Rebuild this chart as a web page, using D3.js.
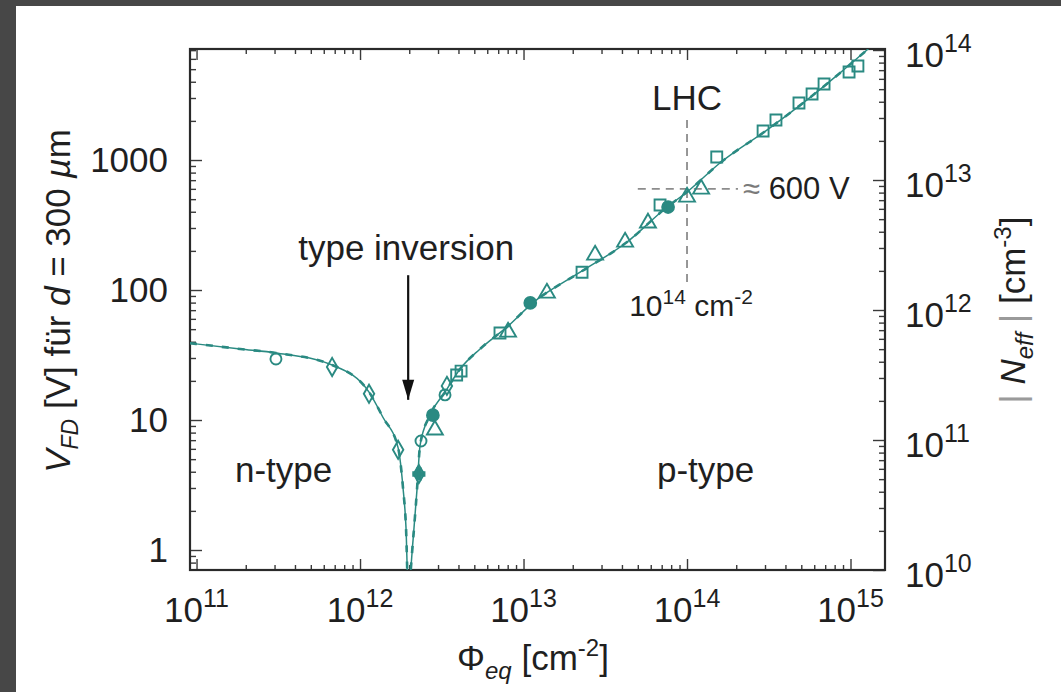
<!DOCTYPE html>
<html>
<head>
<meta charset="utf-8">
<script src="https://cdn.jsdelivr.net/npm/d3@7"></script>
<style>
  html, body { margin: 0; padding: 0; background: #474747; overflow: hidden; }
  svg { display: block; }
  text { font-family: "Liberation Sans", Arial, Helvetica, sans-serif; fill: #1f1f1f; }
</style>
</head>
<body>
<svg id="chart" width="1061" height="692"></svg>
<script>
// Fit curve: full depletion voltage vs. equivalent fluence
const fitFluence = [9.12e10, 1.85e11, 3.06e11, 6.75e11, 1.135e12, 1.38e12, 1.71e12, 1.83e12, 1.91e12, 1.97e12,
                    2.11e12, 2.23e12, 2.33e12, 2.68e12, 3.31e12, 4.09e12, 5.42e12, 7.93e12, 1.14e13, 2.22e13,
                    4.30e13, 7.55e13, 1.0e14, 1.59e14, 3.08e14, 5.42e14, 8.63e14, 1.26e15, 1.51e15];
const fitVoltage = [39.0, 35.2, 32.8, 26.5, 16.4, 10.5, 6.1, 3.05, 1.5, 0.5,
                    1.19, 2.9, 6.4, 10.9, 16.4, 24.7, 35.2, 52, 79.6, 137,
                    234, 435, 567, 948, 1700, 2900, 4680, 7020, 8500];

// Measured samples, grouped by marker type
const circleFluence = [3.06e11, 2.36e12, 3.31e12];
const circleVoltage = [29.5, 6.9, 15.6];
const diamondFluence = [6.75e11, 1.135e12, 1.71e12, 3.4e12];
const diamondVoltage = [25.6, 15.9, 5.9, 18.3];
const crossDiamondFluence = [2.29e12];
const crossDiamondVoltage = [3.84];
const filledFluence = [2.79e12, 1.10e13, 7.66e13];
const filledVoltage = [10.9, 79.6, 435];
const squareFluence = [3.9e12, 4.15e12, 7.18e12, 2.28e13, 6.84e13, 1.52e14, 2.92e14, 3.50e14, 4.84e14, 5.82e14, 6.89e14, 9.8e14, 1.11e15];
const squareVoltage = [22.2, 23.8, 46.7, 137, 451, 1055, 1671, 2031, 2744, 3220, 3843, 4750, 5290];
const triangleFluence = [2.87e12, 8.04e12, 1.39e13, 2.74e13, 4.18e13, 5.77e13, 1.0e14, 1.22e14];
const triangleVoltage = [8.4, 47.5, 94.8, 186, 234, 328, 519, 598];

// Axis ticks
const xTickExponents = [11, 12, 13, 14, 15];
const yTickValues = [1, 10, 100, 1000];
const yTickLabels = ["1", "10", "100", "1000"];
const rightTickExponents = [10, 11, 12, 13, 14];

// Annotations
const lhcFluence = 1e14;
const lhcVoltage = 600;
const inversionFluence = 1.97e12;

const svg = d3.select("#chart");
svg.append("rect").attr("x", 16).attr("y", 6).attr("width", 1045).attr("height", 686).attr("fill", "#fff");

const plot = { left: 190, right: 885, top: 49, bottom: 570 };
const teal = "#2a8a82";

const x = d3.scaleLog().domain([Math.pow(10, 10.96), Math.pow(10, 15.211)]).range([plot.left, plot.right]);
const y = d3.scaleLog().domain([Math.pow(10, -0.1538), Math.pow(10, 3.854)]).range([plot.bottom, plot.top]);
const yN = d3.scaleLog().domain([1e10, 1e10 * y.domain()[1] / y.domain()[0]]).range([plot.bottom, plot.top]);

function minorTicks(scale) {
  const [a, b] = scale.domain();
  const out = [];
  for (let e = Math.floor(Math.log10(a)); e <= Math.ceil(Math.log10(b)); e++) {
    for (let k = 2; k <= 9; k++) {
      const v = k * Math.pow(10, e);
      if (v >= a && v <= b) out.push(v);
    }
  }
  return out;
}
const decades = exps => exps.map(e => Math.pow(10, e));

const axisG = svg.append("g").attr("class", "axes");
function addAxis(gen, transform, values, size) {
  const g = axisG.append("g").attr("transform", transform)
    .call(gen.tickValues(values).tickSize(size).tickFormat(""));
  g.select(".domain").remove();
  g.selectAll("line").attr("stroke", "#3a3a3a").attr("stroke-width", 1.4);
}
// bottom / top
addAxis(d3.axisBottom(x), `translate(0,${plot.bottom})`, decades(xTickExponents), -11);
addAxis(d3.axisBottom(x), `translate(0,${plot.bottom})`, minorTicks(x), -5);
addAxis(d3.axisTop(x), `translate(0,${plot.top})`, decades(xTickExponents), -11);
addAxis(d3.axisTop(x), `translate(0,${plot.top})`, minorTicks(x), -5);
// left (voltage) / right (effective doping)
addAxis(d3.axisLeft(y), `translate(${plot.left},0)`, yTickValues, -12);
addAxis(d3.axisLeft(y), `translate(${plot.left},0)`, minorTicks(y), -6);
addAxis(d3.axisRight(yN), `translate(${plot.right},0)`, decades(rightTickExponents), -12);
addAxis(d3.axisRight(yN), `translate(${plot.right},0)`, minorTicks(yN), -6);

// frame
svg.append("rect")
  .attr("x", plot.left).attr("y", plot.top)
  .attr("width", plot.right - plot.left).attr("height", plot.bottom - plot.top)
  .attr("fill", "none").attr("stroke", "#2a2a2a").attr("stroke-width", 2.2);

// tick labels
const labelFont = 35;
const xl = svg.append("g");
xTickExponents.forEach(e => {
  const t = xl.append("text").attr("x", x(Math.pow(10, e))).attr("y", 622)
    .attr("text-anchor", "middle").attr("font-size", labelFont);
  t.append("tspan").text("10");
  t.append("tspan").attr("dy", -15).attr("font-size", 25).text(e);
});
yTickValues.forEach((v, i) => {
  xl.append("text").attr("x", 168).attr("y", y(v) + 12)
    .attr("text-anchor", "end").attr("font-size", labelFont).text(yTickLabels[i]);
});
rightTickExponents.forEach(e => {
  const t = xl.append("text").attr("x", 905).attr("y", yN(Math.pow(10, e)) + 17)
    .attr("font-size", labelFont);
  t.append("tspan").text("10");
  t.append("tspan").attr("dy", -15).attr("font-size", 25).text(e);
});

// axis titles
const xt = svg.append("text").attr("x", 533).attr("y", 670).attr("text-anchor", "middle").attr("font-size", labelFont);
xt.append("tspan").text("Φ");
xt.append("tspan").attr("font-style", "italic").attr("font-size", 24).attr("dy", 9).text("eq");
xt.append("tspan").attr("dy", -9).text(" [cm");
xt.append("tspan").attr("font-size", 24).attr("dy", -14).text("-2");
xt.append("tspan").attr("dy", 14).text("]");

const yt = svg.append("text").attr("transform", "translate(70,301) rotate(-90)")
  .attr("text-anchor", "middle").attr("font-size", labelFont);
yt.append("tspan").attr("font-style", "italic").text("V");
yt.append("tspan").attr("font-style", "italic").attr("font-size", 23).attr("dy", 8).text("FD");
yt.append("tspan").attr("dy", -8).text(" [V] für ");
yt.append("tspan").attr("font-style", "italic").text("d");
yt.append("tspan").text(" = 300 ");
yt.append("tspan").attr("font-style", "italic").text("µ");
yt.append("tspan").text("m");

const rt = svg.append("text").attr("transform", "translate(1025,310) rotate(-90)")
  .attr("text-anchor", "middle").attr("font-size", labelFont);
rt.append("tspan").attr("fill", "#9a9a9a").text("| ");
rt.append("tspan").attr("font-style", "italic").text("N");
rt.append("tspan").attr("font-style", "italic").attr("font-size", 24).attr("dy", 8).text("eff");
rt.append("tspan").attr("dy", -8).attr("fill", "#9a9a9a").text(" | ");
rt.append("tspan").text("[cm");
rt.append("tspan").attr("font-size", 24).attr("dy", -14).text("-3");
rt.append("tspan").attr("dy", 14).text("]");

// clip to plot area
svg.append("defs").append("clipPath").attr("id", "plotClip")
  .append("rect").attr("x", plot.left).attr("y", plot.top)
  .attr("width", plot.right - plot.left).attr("height", plot.bottom - plot.top);

// LHC crosshair
const cross = svg.append("g").attr("stroke", "#8c8c8c").attr("stroke-width", 1.8).attr("stroke-dasharray", "8 6");
cross.append("line").attr("x1", x(5.0e13)).attr("x2", x(2.05e14)).attr("y1", y(lhcVoltage)).attr("y2", y(lhcVoltage));
cross.append("line").attr("x1", x(lhcFluence)).attr("x2", x(lhcFluence)).attr("y1", y(2030)).attr("y2", y(105));

// fit curve
const fitData = fitFluence.map((f, i) => [f, fitVoltage[i]]);
const line = d3.line().x(d => x(d[0])).y(d => y(d[1])).curve(d3.curveMonotoneX);
const curves = svg.append("g").attr("clip-path", "url(#plotClip)");
curves.append("path").datum(fitData).attr("d", line)
  .attr("fill", "none").attr("stroke", teal).attr("stroke-width", 1.5);
curves.append("path").datum(fitData).attr("d", line)
  .attr("fill", "none").attr("stroke", teal).attr("stroke-width", 2.6).attr("stroke-dasharray", "7 9");

// markers
const marks = svg.append("g").attr("clip-path", "url(#plotClip)");
function drawSeries(fl, vo, type, size, filled) {
  marks.selectAll(null).data(fl.map((f, i) => [f, vo[i]])).enter().append("path")
    .attr("transform", d => `translate(${x(d[0])},${y(d[1])})`)
    .attr("d", d3.symbol().type(type).size(size))
    .attr("fill", filled ? teal : "none")
    .attr("stroke", teal).attr("stroke-width", 1.9);
}
drawSeries(circleFluence, circleVoltage, d3.symbolCircle, 95, false);
drawSeries(diamondFluence, diamondVoltage, d3.symbolDiamond, 95, false);
drawSeries(crossDiamondFluence, crossDiamondVoltage, d3.symbolDiamond, 95, false);
drawSeries(crossDiamondFluence, crossDiamondVoltage, d3.symbolCross, 70, true);
drawSeries(filledFluence, filledVoltage, d3.symbolCircle, 110, true);
drawSeries(squareFluence, squareVoltage, d3.symbolSquare, 120, false);
drawSeries(triangleFluence, triangleVoltage, d3.symbolTriangle, 110, false);

// type inversion arrow
svg.append("defs").append("marker").attr("id", "arrowHead")
  .attr("viewBox", "0 0 12 20").attr("refX", 6).attr("refY", 20)
  .attr("markerWidth", 12).attr("markerHeight", 20).attr("markerUnits", "userSpaceOnUse")
  .attr("orient", "auto-start-reverse")
  .append("path").attr("d", "M0,0 L12,0 L6,20 Z").attr("fill", "#111");
svg.append("line")
  .attr("x1", x(inversionFluence)).attr("x2", x(inversionFluence))
  .attr("y1", y(130)).attr("y2", y(14.3))
  .attr("stroke", "#111").attr("stroke-width", 2.2);
svg.append("path")
  .attr("d", `M${x(inversionFluence) - 6},${y(14.3) - 20} L${x(inversionFluence) + 6},${y(14.3) - 20} L${x(inversionFluence)},${y(14.3)} Z`)
  .attr("fill", "#111");

svg.append("text").attr("x", x(inversionFluence) - 2).attr("y", 260)
  .attr("text-anchor", "middle").attr("font-size", labelFont).attr("fill", "#222").text("type inversion");

// crosshair labels
svg.append("text").attr("x", x(lhcFluence)).attr("y", 110)
  .attr("text-anchor", "middle").attr("font-size", labelFont).text("LHC");
const vl = svg.append("text").attr("x", 743).attr("y", y(lhcVoltage) + 10).attr("font-size", 31);
vl.append("tspan").attr("fill", "#7a7a7a").text("≈");
vl.append("tspan").text(" 600 V");
const fl = svg.append("text").attr("x", x(lhcFluence) + 4).attr("y", 316)
  .attr("text-anchor", "middle").attr("font-size", 30);
fl.append("tspan").text("10");
fl.append("tspan").attr("font-size", 21).attr("dy", -12).text("14");
fl.append("tspan").attr("dy", 12).text(" cm");
fl.append("tspan").attr("font-size", 21).attr("dy", -12).text("-2");

// region labels
svg.append("text").attr("x", 235).attr("y", 482).attr("font-size", labelFont).attr("fill", "#3a56a6").text("n-type");
svg.append("text").attr("x", 657).attr("y", 482).attr("font-size", labelFont).attr("fill", "#a83379").text("p-type");
</script>
</body>
</html>
